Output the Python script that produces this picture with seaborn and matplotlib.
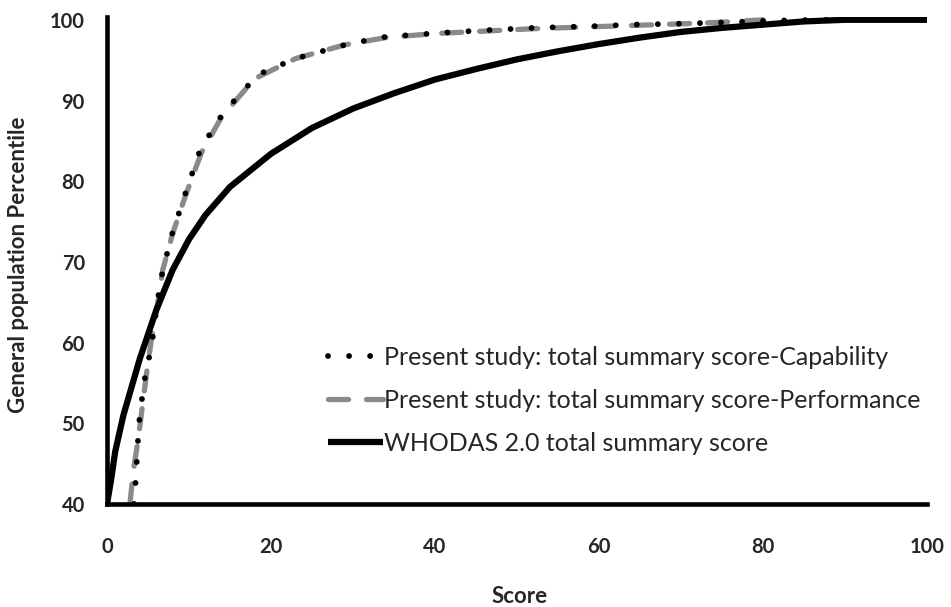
import matplotlib
matplotlib.use("Agg")
import matplotlib.pyplot as plt
import seaborn as sns
import pandas as pd

# ---- data ----
cap_score = [3.3, 3.5, 3.9, 4.5, 5.0, 5.5, 6.0, 6.6, 7.8, 9.3, 11.4, 14.2, 18.4, 23.0,
             29.4, 34.0, 41.0, 46.0, 52.0, 59.0, 64.0, 69.0, 76.0, 81.0, 88.0]
cap_pct = [40.0, 43.0, 50.0, 55.0, 57.5, 60.0, 64.0, 68.0, 73.0, 77.7, 84.0, 88.5, 93.2, 95.2,
           97.0, 97.9, 98.4, 98.7, 99.0, 99.2, 99.4, 99.5, 99.7, 99.9, 100.0]

perf_score = [2.8, 3.2, 3.8, 4.3, 4.8, 5.5, 6.2, 6.8, 8.0, 9.5, 11.5, 14.0, 18.0, 23.0,
              29.0, 34.0, 40.0, 46.0, 52.0, 58.0, 64.0, 70.0, 75.0, 80.0]
perf_pct = [40.0, 44.0, 48.0, 52.0, 56.0, 61.0, 65.0, 69.0, 73.5, 78.0, 83.5, 88.0, 92.7, 95.2,
            96.9, 97.8, 98.3, 98.6, 98.9, 99.1, 99.3, 99.5, 99.7, 100.0]

who_score = [0.0, 0.5, 1.0, 2.0, 4.0, 6.0, 8.0, 10.0, 12.0, 15.0, 20.0, 25.0, 30.0, 35.0,
             40.0, 45.0, 50.0, 55.0, 60.0, 65.0, 70.0, 75.0, 80.0, 85.0, 90.0, 100.0]
who_pct = [40.0, 43.0, 46.5, 51.0, 58.0, 64.0, 69.0, 72.8, 75.8, 79.3, 83.4, 86.6, 89.0, 90.9,
           92.6, 93.9, 95.1, 96.1, 97.0, 97.8, 98.5, 99.0, 99.4, 99.8, 100.0, 100.0]

labels = ["Present study: total summary score-Capability",
          "Present study: total summary score-Performance",
          "WHODAS 2.0 total summary score"]
x_ticks = [0, 20, 40, 60, 80, 100]
y_ticks = [40, 50, 60, 70, 80, 90, 100]

sns.set_style("white")
plt.rcParams["font.family"] = ["Lato", "DejaVu Sans"]

W, H = 951, 607
fig = plt.figure(figsize=(W / 100, H / 100), dpi=100)
ax = fig.add_axes([107 / W, (H - 504) / H, 820 / W, (504 - 17.4) / H])

df_cap = pd.DataFrame({"Score": cap_score, "Pct": cap_pct})
df_perf = pd.DataFrame({"Score": perf_score, "Pct": perf_pct})
df_who = pd.DataFrame({"Score": who_score, "Pct": who_pct})

sns.lineplot(data=df_perf, x="Score", y="Pct", ax=ax, color="#8a8a8a", lw=3.8,
             estimator=None, sort=False, label=labels[1],
             linestyle=(0, (3.8, 3.4)), dash_capstyle="round")
sns.lineplot(data=df_cap, x="Score", y="Pct", ax=ax, color="black", lw=4.2,
             estimator=None, sort=False, label=labels[0],
             linestyle=(0, (0.01, 3.6)), dash_capstyle="round")
sns.lineplot(data=df_who, x="Score", y="Pct", ax=ax, color="black", lw=4.5,
             estimator=None, sort=False, label=labels[2], solid_capstyle="butt")

ax.set_xlim(0, 100)
ax.set_ylim(40, 100.3)
ax.set_xticks(x_ticks)
ax.set_yticks(y_ticks)
ax.set_xticklabels([str(t) for t in x_ticks], fontweight="bold", fontsize=14.5)
ax.set_yticklabels([str(t) for t in y_ticks], fontweight="bold", fontsize=14.5)
ax.tick_params(axis="x", direction="in", length=4, width=2, pad=24)
ax.tick_params(axis="y", direction="in", length=4, width=2, pad=16)

for s in ["top", "right"]:
    ax.spines[s].set_visible(False)
for s in ["left", "bottom"]:
    ax.spines[s].set_linewidth(3.3)
    ax.spines[s].set_color("black")

ax.set_xlabel("Score", fontweight="bold", fontsize=16)
ax.set_ylabel("General population Percentile", fontweight="bold", fontsize=16)
ax.xaxis.set_label_coords((520 - 107) / 820, (504 - 586) / 486.6)
ax.yaxis.set_label_coords((29 - 107) / 820, (504 - 265) / 486.6)

h, l = ax.get_legend_handles_labels()
order = [l.index(lab) for lab in labels]
leg = ax.legend([h[i] for i in order], [l[i] for i in order],
                loc="upper left", bbox_to_anchor=(318 / W, 1 - 336 / H),
                bbox_transform=fig.transFigure, frameon=False, fontsize=18,
                handlelength=2.2, handletextpad=0.05, labelspacing=0.8,
                borderaxespad=0)

fig.savefig("out.png", dpi=100)
